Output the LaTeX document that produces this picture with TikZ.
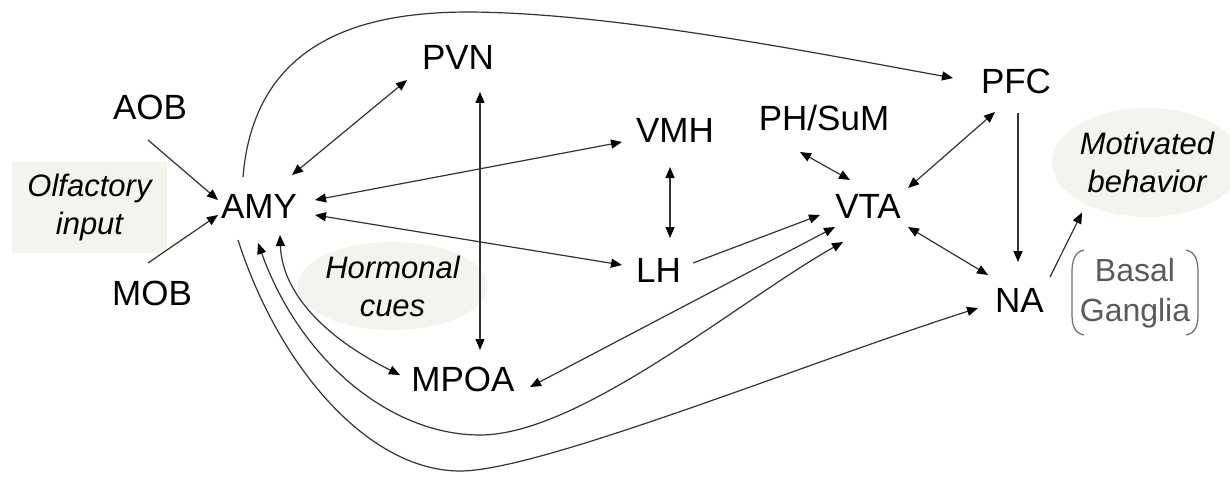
\documentclass[tikz,border=0pt]{standalone}
\usepackage{fontspec}
\setmainfont{Liberation Sans}
\usepackage{xcolor}
\usetikzlibrary{arrows.meta, calc, shapes.geometric}

\definecolor{cuefill}{HTML}{F4F3EE}
\definecolor{linegray}{HTML}{333333}
\definecolor{bggray}{HTML}{5A5A5A}

\tikzset{
    region/.style={font=\fontsize{17.5}{21}\selectfont, inner sep=0pt, text height=12.5pt, text depth=0pt},
    cue/.style={font=\fontsize{15.5}{19}\selectfont\itshape, align=center, fill=cuefill, inner sep=0pt},
    link/.style={draw=linegray, line width=0.6pt},
    bracket/.style={draw=bggray!90, line width=0.6pt},
    >={Triangle[length=5.5pt,width=4.5pt,color=black]}
}

\begin{document}
\begin{tikzpicture}[x=0.5pt, y=-0.5pt]
    \useasboundingbox (0,0) rectangle (1230,476);

    \node[cue, minimum width=77.5pt, minimum height=45.5pt] (olf) at (89.5,207.5) {Olfactory\\input};
    \node[cue, ellipse, minimum width=77.5pt, minimum height=44pt] (horm) at (392.5,286) {Hormonal\\cues};
    \node[cue, ellipse, minimum width=81.5pt, minimum height=54.5pt] (mot) at (1147,162.5) {Motivated\\behavior};

    \node[region] (aob) at (150,107) {AOB};
    \node[region] (mob) at (152,293) {MOB};
    \node[region] (amy) at (259,206) {AMY};
    \node[region] (pvn) at (458,56.5) {PVN};
    \node[region] (vmh) at (675,130) {VMH};
    \node[region] (lh) at (658.5,270) {LH};
    \node[region] (mpoa) at (463,378.5) {MPOA};
    \node[region] (phsum) at (824,117.5) {PH/SuM};
    \node[region] (vta) at (868,205.5) {VTA};
    \node[region] (pfc) at (1016,81) {PFC};
    \node[region] (na) at (1019.5,300) {NA};

    \node[font=\fontsize{16}{20}\selectfont, text=bggray, align=center, inner sep=0pt] (bg) at (1135,293) {Basal\\Ganglia};
    \draw[bracket] (1084,250) .. controls (1074,252) and (1072,262) .. (1072,272) -- (1072,314) .. controls (1072,325) and (1074,333) .. (1084,335);
    \draw[bracket] (1186,250) .. controls (1196,252) and (1198,262) .. (1198,272) -- (1198,314) .. controls (1198,325) and (1196,333) .. (1186,335);

    \draw[link, ->] ($(aob)+(-2,33)$) -- ($(amy)+(-41,-6)$);
    \draw[link, ->] ($(mob)+(-4,-30)$) -- ($(amy)+(-41,9)$);
    \draw[link, <->] ($(amy)+(33,-31)$) -- ($(pvn)+(-51,23.5)$);
    \draw[link, <->] ($(amy)+(56,-6)$) -- ($(vmh)+(-53,12)$);
    \draw[link, <->] ($(amy)+(56,9)$) -- ($(lh)+(-36.5,-5)$);
    \draw[link, <->] ($(pvn)+(22,35.5)$) -- ($(mpoa)+(17,-28.5)$);
    \draw[link, <->] ($(vmh)+(-5,37)$) -- ($(lh)+(11.5,-32)$);
    \draw[link, ->] ($(lh)+(34.5,-7)$) -- ($(vta)+(-48,9.5)$);
    \draw[link, <->] ($(mpoa)+(67,8.5)$) -- ($(vta)+(-33,21.5)$);
    \draw[link, <->] ($(phsum)+(-24,34.5)$) -- ($(vta)+(-18,-25.5)$);
    \draw[link, <->] ($(pfc)+(-21,31)$) -- ($(vta)+(40,-17.5)$);
    \draw[link, ->] ($(pfc)+(2,32)$) -- ($(na)+(-1.5,-38)$);
    \draw[link, <->] ($(vta)+(40,21.5)$) -- ($(na)+(-31.5,-25)$);
    \draw[link, ->] ($(na)+(30.5,-23)$) -- ($(mot)+(-65,50)$);

    \draw[link, ->] ($(amy)+(-16,-29)$) .. controls (255,30) and (380,12) .. (470,12)
        .. controls (610,13) and (800,50) .. ($(pfc)+(-63,-3)$);
    \draw[link, <->] ($(amy)+(21,29)$) .. controls (282,290) and (320,335) .. ($(mpoa)+(-63,-3.5)$);
    \draw[link, <->] ($(amy)+(-1,37)$) .. controls (300,360) and (390,435) .. (480,435)
        .. controls (580,435) and (740,300) .. ($(vta)+(-25,36.5)$);
    \draw[link, ->] ($(amy)+(-21,34)$) .. controls (280,370) and (370,471) .. (460,471)
        .. controls (540,471) and (800,365) .. ($(na)+(-41.5,8)$);
\end{tikzpicture}
\end{document}
